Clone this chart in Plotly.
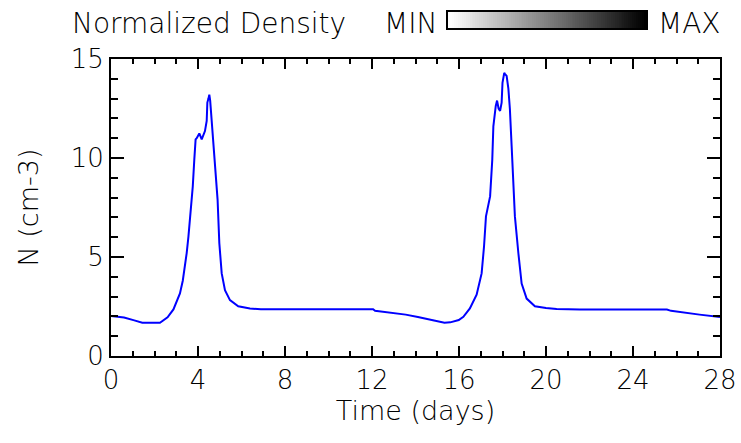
import plotly.graph_objects as go

# Time (days) and density N (cm-3)
time_days = [0.0, 0.6, 1.07, 1.44, 2.25, 2.41, 2.6, 2.87, 3.05, 3.17, 3.3, 3.4, 3.48, 3.56,
             3.68, 3.76, 3.83, 3.89, 3.94, 4.06, 4.17, 4.32, 4.4, 4.43, 4.48, 4.52, 4.56,
             4.63, 4.7, 4.78, 4.9, 4.98, 5.09, 5.24, 5.47, 5.85, 6.39, 6.89, 12.05, 12.14,
             12.8, 13.55, 14.11, 14.77, 15.33, 15.6, 15.99, 16.2, 16.5, 16.81, 17.04, 17.15,
             17.24, 17.43, 17.53, 17.58, 17.66, 17.69, 17.75, 17.82, 17.89, 17.96, 18.0,
             18.08, 18.11, 18.19, 18.27, 18.34, 18.42, 18.5, 18.57, 18.73, 18.88, 19.11,
             19.49, 20.0, 20.49, 21.56, 25.56, 25.75, 26.31, 27.06, 28.0]
density = [2.02, 1.94, 1.8, 1.68, 1.68, 1.82, 1.95, 2.35, 2.8, 3.16, 3.8, 4.5, 5.2, 6.03,
           7.39, 8.57, 9.92, 10.94, 11.0, 11.24, 10.94, 11.36, 11.87, 12.8, 13.0, 13.2, 12.9,
           11.87, 10.5, 9.4, 7.9, 5.7, 4.17, 3.32, 2.82, 2.51, 2.4, 2.36, 2.36, 2.28,
           2.19, 2.09, 1.97, 1.8, 1.68, 1.7, 1.82, 1.98, 2.4, 3.1, 4.17, 5.52,
           7.05, 8.06, 9.92, 11.6, 12.63, 12.63, 12.9, 12.5, 12.38, 12.8, 13.8,
           14.3, 14.25, 14.15, 13.5, 12.46, 10.6, 8.74, 7.05, 5.19, 3.66, 2.9,
           2.51, 2.42, 2.38, 2.35, 2.35, 2.28, 2.19, 2.09, 1.97]

x_ticks = [0, 4, 8, 12, 16, 20, 24, 28]
y_ticks = [0, 5, 10, 15]
bar_levels = list(range(0, 101))

FONT = "DejaVu Sans"
TXT = dict(family=FONT, size=27, color="#000000", weight=200)
HEAD = dict(family=FONT, size=28, color="#000000", weight=200)
W, H = 741, 443
ML, MR, MT, MB = 111, 21, 5, 87
PW, PH = W - ML - MR, H - MT - MB


def px_x(p):
    return (p - ML) / PW


def px_y(p):
    return (H - MB - p) / PH


fig = go.Figure()
fig.add_trace(go.Scatter(x=time_days, y=density, mode="lines",
                         line=dict(color="#0000ff", width=2), showlegend=False,
                         hoverinfo="skip"))
fig.add_trace(go.Heatmap(z=[bar_levels], x=bar_levels, xaxis="x2", yaxis="y2",
                         colorscale=[[0, "#ffffff"], [1, "#000000"]], showscale=False,
                         hoverinfo="skip"))

axis_common = dict(showline=True, linecolor="black", linewidth=2, mirror="allticks",
                   ticks="inside", tickcolor="black", tickwidth=1.5,
                   showgrid=False, zeroline=False, automargin=False,
                   tickfont=dict(family=FONT, size=26, color="#000000", weight=200))

fig.update_layout(
    width=W, height=H,
    margin=dict(l=ML, r=MR, t=MT, b=MB, autoexpand=False),
    paper_bgcolor="white", plot_bgcolor="white",
    xaxis=dict(range=[0, 28], tickvals=x_ticks, ticklen=10,
               minor=dict(dtick=1, tick0=0, ticks="inside", ticklen=5,
                          tickcolor="black", tickwidth=1.5),
               title=dict(text="Time (days)", font=TXT, standoff=3),
               **axis_common),
    yaxis=dict(range=[0, 15], tickvals=y_ticks, ticklen=13,
               domain=[0, px_y(59)],
               minor=dict(dtick=1, tick0=0, ticks="inside", ticklen=7,
                          tickcolor="black", tickwidth=1.5),
               title=dict(text="N (cm-3)", font=TXT, standoff=24),
               **axis_common),
    xaxis2=dict(domain=[px_x(448), px_x(646)], anchor="y2", range=[-0.5, 100.5],
                showticklabels=False, ticks="", showgrid=False, zeroline=False,
                showline=True, linecolor="black", linewidth=1.5, mirror=True),
    yaxis2=dict(domain=[px_y(28), px_y(12)], anchor="x2", range=[-0.5, 0.5],
                showticklabels=False, ticks="", showgrid=False, zeroline=False,
                showline=True, linecolor="black", linewidth=1.5, mirror=True),
)

for txt, cx in [("Normalized Density", 209), ("MIN", 410), ("MAX", 689)]:
    fig.add_annotation(text=txt, x=px_x(cx), y=px_y(23), xref="paper", yref="paper",
                       xanchor="center", yanchor="middle", showarrow=False, font=HEAD)

fig.write_html("out.html")
